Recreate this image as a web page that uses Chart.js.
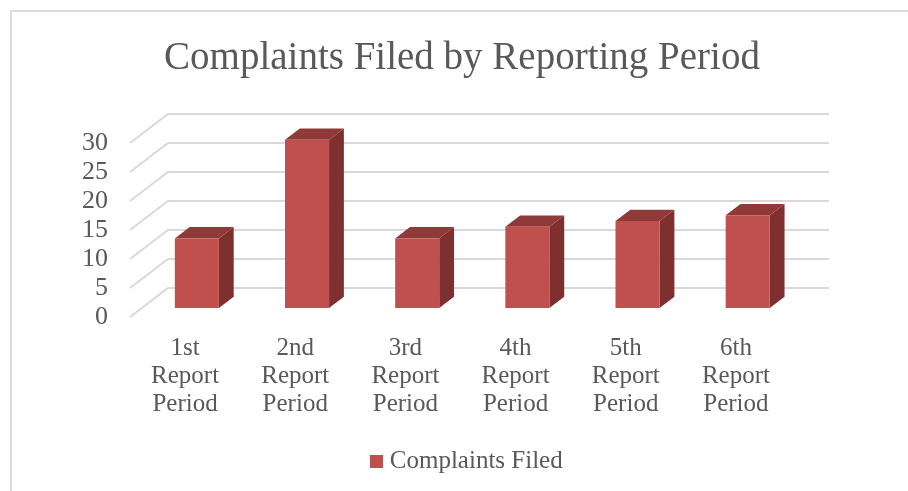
<!DOCTYPE html>
<html>
<head>
<meta charset="utf-8">
<style>
html,body{margin:0;padding:0;background:#fff;overflow:hidden}
#wrap{position:relative;width:908px;height:491px}
#frame{position:absolute;left:10px;top:10px;right:0;bottom:0;border-left:2px solid #dcdcdc;border-top:2px solid #dcdcdc}
canvas{position:absolute;left:0;top:0}
</style>
<script src="https://cdn.jsdelivr.net/npm/chart.js@4"></script>
</head>
<body>
<div id="wrap"><div id="frame"></div><canvas id="c" width="908" height="491"></canvas></div>
<script>
const categories = [["1st","Report","Period"],["2nd","Report","Period"],["3rd","Report","Period"],["4th","Report","Period"],["5th","Report","Period"],["6th","Report","Period"]];
const complaintsFiled = [12,29,12,14,15,16];
const seriesName = "Complaints Filed";
const chartTitle = "Complaints Filed by Reporting Period";
const FONT = "'Liberation Serif'";
const TEXT = "#595959";
const FRONT = "#c0504d", SIDE = "#7d302e", TOP = "#8f3a38", GRID = "#d9d9d9";
// oblique projection of the plot floor, as fractions of the full depth
const DEPTH_X = 38, DEPTH_Y = 29, BAR_POS = 0.31, BAR_DEPTH = 0.39;

// legend swatch as an image so the gap to the text can be tighter than the default
const swatch = document.createElement("canvas");
swatch.width = 13; swatch.height = 13;
const sctx = swatch.getContext("2d");
sctx.fillStyle = FRONT; sctx.fillRect(0, 0, 13, 13);

const oblique = {
  id: "oblique",
  afterLayout(chart) { chart.legend.left += 14; },
  beforeDatasetsDraw(chart) {
    const {ctx, chartArea: a, scales: {y}} = chart;
    ctx.save();
    ctx.strokeStyle = GRID; ctx.lineWidth = 2;
    y.ticks.forEach(t => {
      const py = y.getPixelForValue(t.value);
      ctx.beginPath();
      ctx.moveTo(a.left, py);
      ctx.lineTo(a.left + DEPTH_X, py - DEPTH_Y);
      ctx.lineTo(a.right + DEPTH_X, py - DEPTH_Y);
      ctx.stroke();
    });
    ctx.restore();
    ctx.save();
    ctx.translate(DEPTH_X * BAR_POS, -DEPTH_Y * BAR_POS);
    const dx = DEPTH_X * BAR_DEPTH, dy = DEPTH_Y * BAR_DEPTH;
    chart.getDatasetMeta(0).data.forEach(b => {
      const l = b.x - b.width / 2, r = b.x + b.width / 2, t = b.y, base = b.base;
      ctx.fillStyle = SIDE;
      ctx.beginPath();
      ctx.moveTo(r, t); ctx.lineTo(r + dx, t - dy); ctx.lineTo(r + dx, base - dy); ctx.lineTo(r, base);
      ctx.closePath(); ctx.fill();
      ctx.fillStyle = TOP;
      ctx.beginPath();
      ctx.moveTo(l, t); ctx.lineTo(l + dx, t - dy); ctx.lineTo(r + dx, t - dy); ctx.lineTo(r, t);
      ctx.closePath(); ctx.fill();
    });
  },
  afterDatasetsDraw(chart) { chart.ctx.restore(); }
};

new Chart(document.getElementById("c"), {
  type: "bar",
  data: {
    labels: categories,
    datasets: [{label: seriesName, data: complaintsFiled, backgroundColor: FRONT, borderWidth: 0,
      categoryPercentage: 1, barPercentage: 0.4}]
  },
  plugins: [oblique],
  options: {
    responsive: false,
    animation: false,
    layout: {padding: {left: 16, right: 0, top: 0, bottom: 7}},
    plugins: {
      title: {display: true, text: chartTitle, color: TEXT,
        font: {family: FONT, size: 39, weight: "normal", lineHeight: 1.2},
        padding: {top: 35.5, bottom: 60.7}},
      legend: {position: "bottom",
        labels: {color: TEXT, font: {family: FONT, size: 25}, boxWidth: 13, boxHeight: 13, padding: 10,
          usePointStyle: true, pointStyle: swatch, pointStyleWidth: 2}},
      tooltip: {enabled: false}
    },
    scales: {
      x: {grid: {display: false, drawTicks: false}, border: {display: false},
        ticks: {color: TEXT, font: {family: FONT, size: 25, lineHeight: 1.12}, padding: 17, maxRotation: 0, autoSkip: false},
        afterFit(s) { s.height = 122; }},
      y: {min: 0, max: 30, grid: {display: false, drawTicks: false}, border: {display: false},
        ticks: {stepSize: 5, color: TEXT, font: {family: FONT, size: 26}, padding: 22, autoSkip: false},
        afterFit(s) { s.width = 114; }},
      rightGutter: {position: "right", display: true, grid: {display: false, drawTicks: false}, border: {display: false},
        ticks: {display: false},
        afterFit(s) { s.width = 117; }}
    }
  }
});
</script>
</body>
</html>
